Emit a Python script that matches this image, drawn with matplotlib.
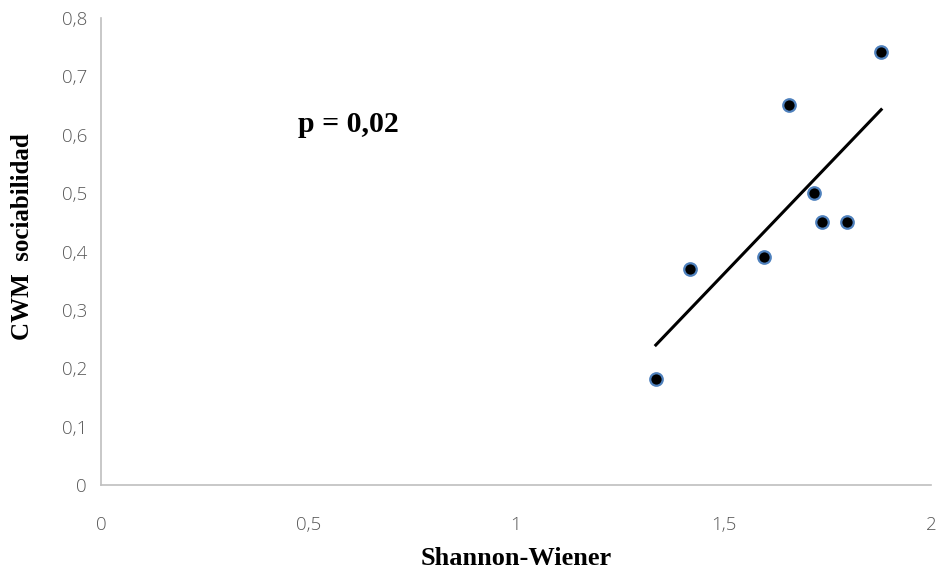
import numpy as np
import matplotlib
matplotlib.use("Agg")
import matplotlib.pyplot as plt
from matplotlib.ticker import FuncFormatter

# datos
shannon = [1.337, 1.419, 1.598, 1.658, 1.718, 1.737, 1.798, 1.880]
cwm_sociabilidad = [0.182, 0.370, 0.391, 0.651, 0.500, 0.451, 0.451, 0.742]
x_ticks = [0, 0.5, 1, 1.5, 2]
y_ticks = [0, 0.1, 0.2, 0.3, 0.4, 0.5, 0.6, 0.7, 0.8]
p_label = "p = 0,02"

x = np.array(shannon)
y = np.array(cwm_sociabilidad)

fig = plt.figure(figsize=(9.4, 5.75), dpi=100)
ax = fig.add_axes([0.1074, 0.1565, 0.883, 0.812])

ax.plot(x, y, "o", markersize=9, markerfacecolor="black",
        markeredgecolor="#4F81BD", markeredgewidth=1.6, zorder=3)

# recta de regresión
slope, intercept = np.polyfit(x, y, 1)
xs = np.array([x.min(), x.max()])
ax.plot(xs, slope * xs + intercept, color="black", linewidth=2.2, zorder=2)

ax.set_xlim(0, 2)
ax.set_ylim(0, 0.8)
ax.set_xticks(x_ticks)
ax.set_yticks(y_ticks)
fmt = FuncFormatter(lambda v, pos: ("%g" % v).replace(".", ","))
ax.xaxis.set_major_formatter(fmt)
ax.yaxis.set_major_formatter(fmt)

for side in ["top", "right"]:
    ax.spines[side].set_visible(False)
for side in ["left", "bottom"]:
    ax.spines[side].set_color("#BFBFBF")
    ax.spines[side].set_linewidth(1.2)
ax.tick_params(length=0, labelsize=13.5, labelcolor="#595959")
ax.tick_params(axis="x", pad=22)
ax.tick_params(axis="y", pad=10)
for lab in ax.get_xticklabels() + ax.get_yticklabels():
    lab.set_family("Open Sans")
    lab.set_fontweight("light")

ax.set_xlabel("Shannon-Wiener", family="Liberation Serif", fontweight="bold",
              fontsize=19, labelpad=10)
ax.set_ylabel("CWM  sociabilidad", family="Liberation Serif", fontweight="bold",
              fontsize=18)
ax.yaxis.set_label_coords(-0.081, 0.531)

ax.text(0.475, 0.618, p_label, family="Liberation Serif", fontweight="bold",
        fontsize=21.5, va="center", ha="left")

fig.savefig("out.png", dpi=100)
